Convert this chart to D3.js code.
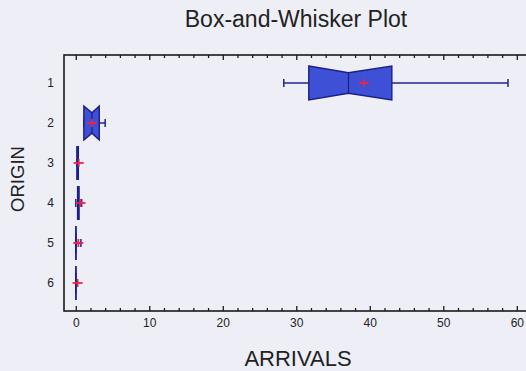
<!DOCTYPE html>
<html>
<head>
<meta charset="utf-8">
<script src="https://cdn.jsdelivr.net/npm/d3@7"></script>
<style>
  html, body { margin: 0; padding: 0; background: #eeeef6; }
  svg { display: block; }
  text { font-family: "Liberation Sans", Arial, sans-serif; }
</style>
</head>
<body>
<svg id="chart" width="526" height="371"></svg>
<script>
// ---- data ----
const categories  = ["1", "2", "3", "4", "5", "6"];
const whiskerLow  = [28.3, 1.1, 0.15, 0.0, 0.0, 0.0];
const q1          = [31.7, 1.1, 0.15, 0.25, 0.0, 0.0];
const median      = [37.1, 2.2, 0.25, 0.35, 0.02, 0.02];
const q3          = [43.0, 3.2, 0.35, 0.45, 0.05, 0.05];
const whiskerHigh = [58.8, 4.0, 0.35, 0.8, 0.7, 0.2];
const mean        = [39.2, 2.2, 0.4, 0.65, 0.35, 0.25];
const xTicks      = [0, 10, 20, 30, 40, 50, 60];
const title  = "Box-and-Whisker Plot";
const xTitle = "ARRIVALS";
const yTitle = "ORIGIN";

// ---- layout ----
const W = 526, H = 371;
const mL = 64, mR = 531.5, mT = 55, mB = 311;
const svg = d3.select("#chart");

svg.append("rect").attr("width", W).attr("height", H).attr("fill", "#eeeef6");

const x = d3.scaleLinear().domain([-1.6, 62]).range([mL, mR]);
const y = d3.scaleLinear().domain([0.3, 6.7]).range([mT, mB]);

const halfH = 0.425;      // box half height in row units
const notchFrac = 0.4;    // notch depth as a fraction of half height
const boxFill = "#3d50d6", boxStroke = "#1b1f86", whiskColor = "#1f2596";

// frame
svg.append("rect")
  .attr("x", mL).attr("y", mT)
  .attr("width", mR - mL).attr("height", mB - mT)
  .attr("fill", "#eeeef6").attr("stroke", "#1a1a1a").attr("stroke-width", 1.6);

const minorTicks = d3.range(0, 63, 2).filter(v => v % 10 !== 0);

// bottom axis ticks (inward) + labels
const gB = svg.append("g").attr("transform", `translate(0,${mB})`);
gB.call(d3.axisBottom(x).tickValues(xTicks).tickSizeInner(-5).tickSizeOuter(0).tickPadding(12)
  .tickFormat(d3.format("d")));
const gBm = svg.append("g").attr("transform", `translate(0,${mB})`);
gBm.call(d3.axisBottom(x).tickValues(minorTicks).tickSizeInner(-3).tickSizeOuter(0).tickFormat(""));

// top axis ticks (inward)
const gT = svg.append("g").attr("transform", `translate(0,${mT})`);
gT.call(d3.axisTop(x).tickValues(xTicks).tickSizeInner(-5).tickSizeOuter(0).tickFormat(""));
const gTm = svg.append("g").attr("transform", `translate(0,${mT})`);
gTm.call(d3.axisTop(x).tickValues(minorTicks).tickSizeInner(-3).tickSizeOuter(0).tickFormat(""));

// left axis labels
const gL = svg.append("g").attr("transform", `translate(${mL},0)`);
gL.call(d3.axisLeft(y).tickValues(d3.range(1, categories.length + 1)).tickSize(0).tickPadding(10)
  .tickFormat((d, i) => categories[i]));

[gB, gBm, gT, gTm, gL].forEach(g => {
  g.select(".domain").remove();
  g.selectAll(".tick line").attr("stroke", "#1a1a1a").attr("stroke-width", 1.3);
  g.selectAll(".tick text").attr("fill", "#222").attr("font-size", 12)
    .attr("font-family", '"Liberation Sans", Arial, sans-serif');
});
gB.selectAll(".tick text").attr("dy", "0.3em");

// boxes
const rows = categories.map((c, i) => ({
  row: i + 1, lo: whiskerLow[i], q1: q1[i], med: median[i], q3: q3[i], hi: whiskerHigh[i], mean: mean[i]
}));

const plot = svg.append("g");
rows.forEach(r => {
  const yc = y(r.row);
  const hh = y(r.row + halfH) - yc;
  const cap = 4;
  // whiskers
  plot.append("line").attr("x1", x(r.lo)).attr("x2", x(r.q1)).attr("y1", yc).attr("y2", yc)
    .attr("stroke", whiskColor).attr("stroke-width", 1.5);
  plot.append("line").attr("x1", x(r.q3)).attr("x2", x(r.hi)).attr("y1", yc).attr("y2", yc)
    .attr("stroke", whiskColor).attr("stroke-width", 1.5);
  [r.lo, r.hi].forEach(v => {
    plot.append("line").attr("x1", x(v)).attr("x2", x(v)).attr("y1", yc - cap).attr("y2", yc + cap)
      .attr("stroke", whiskColor).attr("stroke-width", 1.5);
  });
  // notched box
  const d = hh * notchFrac;
  const pts = [
    [x(r.q1), yc - hh], [x(r.med), yc - hh + d], [x(r.q3), yc - hh],
    [x(r.q3), yc + hh], [x(r.med), yc + hh - d], [x(r.q1), yc + hh]
  ];
  plot.append("path").attr("d", d3.line()(pts) + "Z")
    .attr("fill", boxFill).attr("stroke", boxStroke).attr("stroke-width", 1.4)
    .attr("stroke-linejoin", "miter");
  plot.append("line").attr("x1", x(r.med)).attr("x2", x(r.med))
    .attr("y1", yc - hh + d).attr("y2", yc + hh - d)
    .attr("stroke", boxStroke).attr("stroke-width", 1.2);
  // mean plus
  const mx = x(r.mean);
  plot.append("line").attr("x1", mx - 5).attr("x2", mx + 5).attr("y1", yc).attr("y2", yc)
    .attr("stroke", "#e8264b").attr("stroke-width", 1.8);
  plot.append("line").attr("x1", mx).attr("x2", mx).attr("y1", yc - 4).attr("y2", yc + 4)
    .attr("stroke", "#e8264b").attr("stroke-width", 1.8);
});

// titles
svg.append("text").attr("x", 296).attr("y", 27).attr("text-anchor", "middle")
  .attr("font-size", 23).attr("fill", "#222").text(title);
svg.append("text").attr("x", 298).attr("y", 366).attr("text-anchor", "middle")
  .attr("font-size", 22).attr("fill", "#222").text(xTitle);
svg.append("text").attr("transform", "translate(24,179) rotate(-90)").attr("text-anchor", "middle")
  .attr("font-size", 18.5).attr("fill", "#222").text(yTitle);
</script>
</body>
</html>
